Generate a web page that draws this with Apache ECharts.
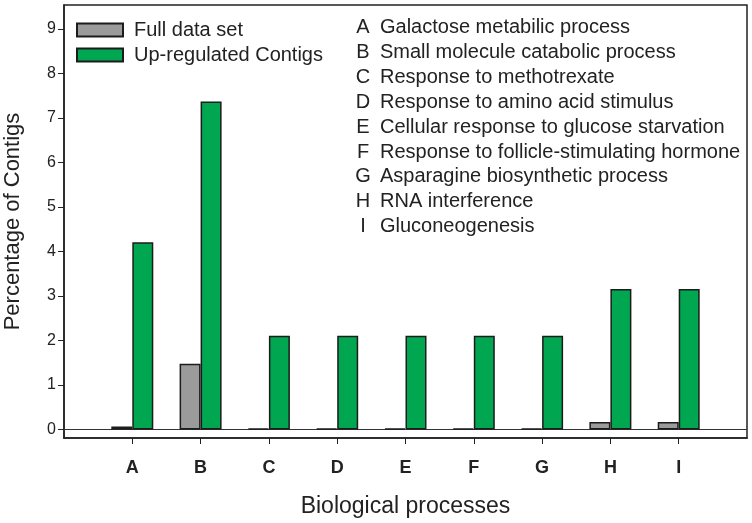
<!DOCTYPE html>
<html>
<head>
<meta charset="utf-8">
<script src="https://cdn.jsdelivr.net/npm/echarts@6/dist/echarts.min.js"></script>
<style>html,body{margin:0;padding:0;background:#fff}#c{width:752px;height:523px}</style>
</head>
<body>
<div id="c"></div>
<script>
const categories = ['A', 'B', 'C', 'D', 'E', 'F', 'G', 'H', 'I'];
const fullDataSet = [0.07, 1.48, 0.02, 0.02, 0.02, 0.02, 0.02, 0.17, 0.17];
const upRegulated = [4.21, 7.37, 2.11, 2.11, 2.11, 2.11, 2.11, 3.16, 3.16];
const yTicks = [0, 1, 2, 3, 4, 5, 6, 7, 8, 9];
const descriptions = [
  'Galactose metabilic process',
  'Small molecule catabolic process',
  'Response to methotrexate',
  'Response to amino acid stimulus',
  'Cellular response to glucose starvation',
  'Response to follicle-stimulating hormone',
  'Asparagine biosynthetic process',
  'RNA interference',
  'Gluconeogenesis'
];

const FONT = '"Liberation Sans", Arial, sans-serif';
const axisCats = [''].concat(categories, ['']);
const pad = arr => [null].concat(arr, [null]);

const graphics = [];
descriptions.forEach((d, i) => {
  const y = 27.5 + i * 24.9;
  graphics.push({ type: 'text', x: 363, y: y, style: { text: categories[i], font: '20px ' + FONT, fill: '#222', textAlign: 'center', textVerticalAlign: 'middle' } });
  graphics.push({ type: 'text', x: 380, y: y, style: { text: d, font: '20px ' + FONT, fill: '#222', textAlign: 'left', textVerticalAlign: 'middle' } });
});

const chart = echarts.init(document.getElementById('c'), null, { renderer: 'canvas' });
chart.setOption({
  animation: false,
  textStyle: { fontFamily: FONT },
  grid: { left: 64, right: 5, top: 5, bottom: 85, outerBoundsMode: 'none', containLabel: false, show: true, borderColor: '#222', borderWidth: 1.5, backgroundColor: 'transparent' },
  legend: {
    orient: 'vertical', left: 76, top: 20, itemWidth: 46, itemHeight: 13, itemGap: 5, padding: 0, icon: 'rect',
    textStyle: { fontSize: 20, color: '#222', fontFamily: FONT, padding: [0, 0, 0, 6] },
    data: ['Full data set', 'Up-regulated Contigs']
  },
  xAxis: {
    type: 'category', data: axisCats, boundaryGap: false,
    axisLine: { show: true, onZero: false, lineStyle: { color: '#222', width: 1.5 } },
    axisTick: { show: true, interval: (i) => i >= 1 && i <= categories.length, length: 6, lineStyle: { color: '#222', width: 1 } },
    axisLabel: { interval: 0, fontSize: 18, fontWeight: 'bold', color: '#222', margin: 21 },
    splitLine: { show: false },
    name: 'Biological processes', nameLocation: 'middle', nameGap: 57,
    nameTextStyle: { fontSize: 23, color: '#222' }
  },
  yAxis: {
    type: 'value', min: -0.19, max: 9.54,
    axisLine: { show: true, lineStyle: { color: '#222', width: 1.5 } },
    axisTick: { show: true, customValues: yTicks, length: 6, lineStyle: { color: '#222', width: 1 } },
    axisLabel: { customValues: yTicks, fontSize: 16, color: '#222', margin: 8 },
    splitLine: { show: false },
    name: 'Percentage of Contigs', nameLocation: 'middle', nameGap: 40,
    nameTextStyle: { fontSize: 22, color: '#222' }
  },
  series: [
    {
      name: 'Full data set', type: 'bar', data: pad(fullDataSet), barWidth: 21, barGap: '0%',
      itemStyle: { color: '#9b9b9b', borderColor: '#1c1c1c', borderWidth: 1.5 },
      markLine: { silent: true, symbol: 'none', label: { show: false }, lineStyle: { color: '#333', width: 1, type: 'solid' }, data: [{ yAxis: 0 }], z: 1 }
    },
    {
      name: 'Up-regulated Contigs', type: 'bar', data: pad(upRegulated), barWidth: 21, barGap: '0%',
      itemStyle: { color: '#00a650', borderColor: '#1c1c1c', borderWidth: 1.5 }
    }
  ],
  graphic: graphics
});
</script>
</body>
</html>
